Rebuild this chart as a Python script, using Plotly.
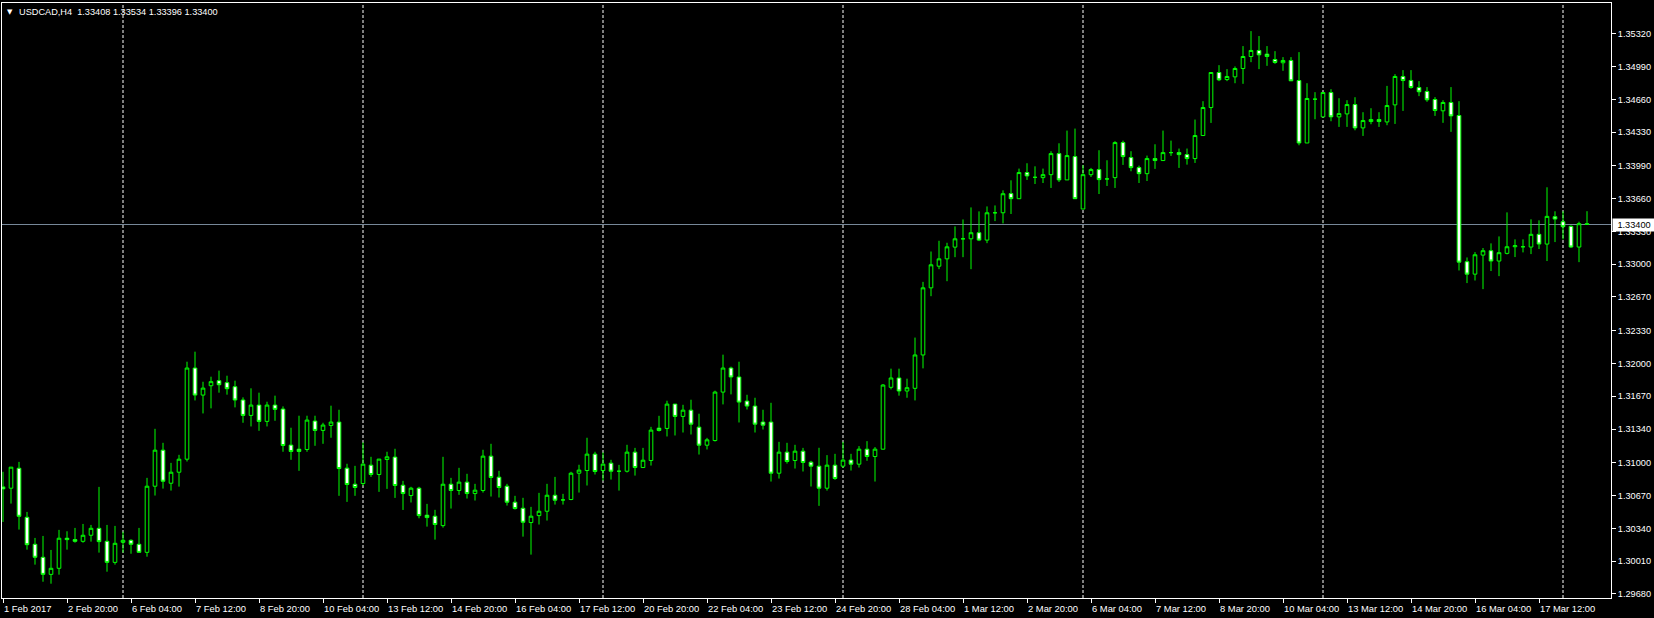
import plotly.graph_objects as go
import pandas as pd

# ---------------- data (USDCAD, H4) ----------------
open_ = [1.30757, 1.30744, 1.30945, 1.30451, 1.30179, 1.30048, 1.29876, 1.29937, 1.30240, 1.30226,
         1.30209, 1.30270, 1.30340, 1.30209, 1.29997, 1.30199, 1.30219, 1.30179, 1.30098, 1.30764,
         1.31127, 1.30794, 1.30905, 1.31036, 1.31954, 1.31682, 1.31776, 1.31827, 1.31807, 1.31766,
         1.31632, 1.31477, 1.31581, 1.31417, 1.31581, 1.31541, 1.31178, 1.31137, 1.31134, 1.31420,
         1.31326, 1.31376, 1.31410, 1.30946, 1.30784, 1.30791, 1.30976, 1.30882, 1.31033, 1.31057,
         1.30774, 1.30670, 1.30744, 1.30472, 1.30462, 1.30367, 1.30784, 1.30721, 1.30805, 1.30690,
         1.30721, 1.31067, 1.30855, 1.30764, 1.30603, 1.30542, 1.30398, 1.30468, 1.30512, 1.30673,
         1.30626, 1.30630, 1.30895, 1.30922, 1.31087, 1.30922, 1.30996, 1.30915, 1.30915, 1.31107,
         1.30952, 1.31023, 1.31349, 1.31346, 1.31591, 1.31467, 1.31530, 1.31359, 1.31177, 1.31224,
         1.31712, 1.31954, 1.31864, 1.31621, 1.31571, 1.31410, 1.31410, 1.30895, 1.31107, 1.31023,
         1.31117, 1.31006, 1.30966, 1.30744, 1.30976, 1.30966, 1.31027, 1.30986, 1.31137, 1.31063,
         1.31137, 1.31760, 1.31854, 1.31723, 1.31750, 1.32086, 1.32762, 1.32980, 1.33054, 1.33172,
         1.33256, 1.33256, 1.33317, 1.33243, 1.33518, 1.33518, 1.33711, 1.33660, 1.33923, 1.33875,
         1.33872, 1.33902, 1.34114, 1.33849, 1.34084, 1.33556, 1.33902, 1.33953, 1.33859, 1.33872,
         1.34225, 1.34074, 1.33973, 1.33912, 1.34064, 1.34044, 1.34124, 1.34124, 1.34104, 1.34064,
         1.34296, 1.34578, 1.34931, 1.34860, 1.34887, 1.34971, 1.35092, 1.35153, 1.35116, 1.35062,
         1.35029, 1.35052, 1.34850, 1.34221, 1.34662, 1.34484, 1.34729, 1.34484, 1.34514, 1.34608,
         1.34373, 1.34437, 1.34457, 1.34433, 1.34605, 1.34891, 1.34851, 1.34780, 1.34740, 1.34659,
         1.34545, 1.34629, 1.34498, 1.33025, 1.32900, 1.33092, 1.33136, 1.33032, 1.33109, 1.33176,
         1.33176, 1.33173, 1.33301, 1.33203, 1.33479, 1.33428, 1.33381, 1.33173, 1.33408]

high = [1.30909, 1.30956, 1.31009, 1.30505, 1.30243, 1.30263, 1.30122, 1.30324, 1.30310, 1.30344,
        1.30384, 1.30374, 1.30757, 1.30374, 1.30364, 1.30306, 1.30229, 1.30344, 1.30848, 1.31342,
        1.31201, 1.30999, 1.31080, 1.32018, 1.32119, 1.31816, 1.31867, 1.31928, 1.31877, 1.31827,
        1.31659, 1.31750, 1.31706, 1.31615, 1.31676, 1.31568, 1.31353, 1.31474, 1.31474, 1.31474,
        1.31403, 1.31575, 1.31534, 1.30990, 1.30969, 1.31205, 1.31060, 1.31037, 1.31111, 1.31141,
        1.30818, 1.30758, 1.30758, 1.30586, 1.30526, 1.31060, 1.30848, 1.30949, 1.30889, 1.30788,
        1.31131, 1.31191, 1.30919, 1.30788, 1.30667, 1.30647, 1.30556, 1.30697, 1.30788, 1.30858,
        1.30687, 1.30909, 1.30980, 1.31252, 1.31111, 1.31104, 1.31030, 1.30979, 1.31181, 1.31150,
        1.31150, 1.31362, 1.31473, 1.31625, 1.31591, 1.31584, 1.31635, 1.31494, 1.31251, 1.31726,
        1.32089, 1.31968, 1.32018, 1.31685, 1.31655, 1.31534, 1.31604, 1.31211, 1.31201, 1.31181,
        1.31150, 1.31020, 1.31151, 1.31077, 1.31090, 1.31211, 1.31090, 1.31168, 1.31218, 1.31158,
        1.31793, 1.31948, 1.31948, 1.31847, 1.32261, 1.32822, 1.33128, 1.33236, 1.33216, 1.33381,
        1.33451, 1.33572, 1.33532, 1.33582, 1.33592, 1.33744, 1.33845, 1.33963, 1.34017, 1.33986,
        1.33963, 1.34138, 1.34218, 1.34346, 1.34366, 1.33997, 1.33970, 1.34148, 1.34047, 1.34239,
        1.34245, 1.34138, 1.33993, 1.34094, 1.34208, 1.34346, 1.34245, 1.34165, 1.34165, 1.34457,
        1.34642, 1.34931, 1.35005, 1.34965, 1.34992, 1.35197, 1.35348, 1.35298, 1.35197, 1.35146,
        1.35086, 1.35086, 1.35136, 1.34823, 1.34733, 1.34729, 1.34763, 1.34672, 1.34652, 1.34682,
        1.34531, 1.34571, 1.34531, 1.34796, 1.34914, 1.34955, 1.34955, 1.34844, 1.34784, 1.34683,
        1.34652, 1.34784, 1.34642, 1.33068, 1.33122, 1.33163, 1.33210, 1.33280, 1.33522, 1.33250,
        1.33250, 1.33452, 1.33442, 1.33775, 1.33533, 1.33533, 1.33391, 1.33428, 1.33534]

low = [1.30404, 1.30589, 1.30327, 1.30125, 1.29974, 1.29802, 1.29782, 1.29873, 1.30125, 1.30195,
       1.30195, 1.30206, 1.30095, 1.29903, 1.29974, 1.30095, 1.30084, 1.30098, 1.30054, 1.30670,
       1.30740, 1.30720, 1.30760, 1.31013, 1.31628, 1.31497, 1.31548, 1.31706, 1.31686, 1.31558,
       1.31403, 1.31366, 1.31322, 1.31366, 1.31423, 1.31111, 1.31030, 1.30919, 1.31111, 1.31171,
       1.31191, 1.31252, 1.30667, 1.30606, 1.30667, 1.30768, 1.30858, 1.30707, 1.30737, 1.30646,
       1.30525, 1.30600, 1.30441, 1.30357, 1.30226, 1.30347, 1.30539, 1.30677, 1.30640, 1.30620,
       1.30700, 1.30660, 1.30650, 1.30569, 1.30529, 1.30256, 1.30075, 1.30378, 1.30418, 1.30579,
       1.30579, 1.30623, 1.30700, 1.30771, 1.30882, 1.30821, 1.30831, 1.30720, 1.30902, 1.30871,
       1.30952, 1.30972, 1.31315, 1.31265, 1.31275, 1.31305, 1.31285, 1.31083, 1.31134, 1.31214,
       1.31588, 1.31689, 1.31406, 1.31537, 1.31305, 1.31335, 1.30811, 1.30841, 1.30992, 1.30942,
       1.30912, 1.30761, 1.30566, 1.30720, 1.30828, 1.30949, 1.30922, 1.30952, 1.31020, 1.30811,
       1.31134, 1.31739, 1.31676, 1.31655, 1.31628, 1.31951, 1.32678, 1.32950, 1.32829, 1.33071,
       1.33071, 1.32950, 1.33233, 1.33212, 1.33434, 1.33411, 1.33506, 1.33660, 1.33849, 1.33808,
       1.33818, 1.33768, 1.33828, 1.33849, 1.33660, 1.33556, 1.33879, 1.33707, 1.33788, 1.33768,
       1.34000, 1.33936, 1.33818, 1.33838, 1.33960, 1.34044, 1.34091, 1.33970, 1.34003, 1.34020,
       1.34292, 1.34423, 1.34844, 1.34844, 1.34823, 1.34817, 1.35035, 1.34965, 1.34998, 1.35018,
       1.34948, 1.34847, 1.34198, 1.34221, 1.34460, 1.34484, 1.34440, 1.34383, 1.34383, 1.34349,
       1.34292, 1.34410, 1.34383, 1.34400, 1.34413, 1.34544, 1.34767, 1.34693, 1.34636, 1.34494,
       1.34424, 1.34333, 1.32937, 1.32810, 1.32836, 1.32749, 1.32931, 1.32880, 1.33099, 1.33072,
       1.33119, 1.33102, 1.33153, 1.33032, 1.33223, 1.33250, 1.33163, 1.33021, 1.33396]

close = [1.30737, 1.30956, 1.30461, 1.30175, 1.30048, 1.29876, 1.29937, 1.30240, 1.30226, 1.30209,
         1.30270, 1.30340, 1.30206, 1.29997, 1.30189, 1.30219, 1.30179, 1.30098, 1.30764, 1.31127,
         1.30814, 1.30905, 1.31036, 1.31954, 1.31682, 1.31752, 1.31817, 1.31786, 1.31746, 1.31632,
         1.31477, 1.31581, 1.31417, 1.31581, 1.31538, 1.31174, 1.31114, 1.31114, 1.31430, 1.31326,
         1.31380, 1.31410, 1.30942, 1.30781, 1.30751, 1.30986, 1.30882, 1.31037, 1.31060, 1.30771,
         1.30690, 1.30744, 1.30468, 1.30448, 1.30378, 1.30784, 1.30721, 1.30805, 1.30690, 1.30724,
         1.31067, 1.30852, 1.30751, 1.30603, 1.30539, 1.30401, 1.30462, 1.30512, 1.30673, 1.30623,
         1.30626, 1.30895, 1.30926, 1.31087, 1.30912, 1.30986, 1.30915, 1.30915, 1.31107, 1.30952,
         1.31026, 1.31329, 1.31325, 1.31591, 1.31467, 1.31530, 1.31389, 1.31177, 1.31231, 1.31712,
         1.31954, 1.31864, 1.31611, 1.31571, 1.31389, 1.31379, 1.30895, 1.31107, 1.31013, 1.31117,
         1.31003, 1.30966, 1.30744, 1.30976, 1.30842, 1.31027, 1.30986, 1.31137, 1.31063, 1.31137,
         1.31783, 1.31854, 1.31723, 1.31756, 1.32086, 1.32762, 1.32994, 1.33054, 1.33175, 1.33256,
         1.33256, 1.33317, 1.33243, 1.33518, 1.33518, 1.33710, 1.33660, 1.33923, 1.33889, 1.33875,
         1.33902, 1.34114, 1.33849, 1.34094, 1.33660, 1.33902, 1.33953, 1.33852, 1.33859, 1.34225,
         1.34084, 1.33973, 1.33912, 1.34064, 1.34044, 1.34124, 1.34124, 1.34104, 1.34064, 1.34296,
         1.34578, 1.34931, 1.34857, 1.34891, 1.34971, 1.35092, 1.35153, 1.35109, 1.35092, 1.35032,
         1.35052, 1.34847, 1.34221, 1.34669, 1.34662, 1.34729, 1.34484, 1.34517, 1.34608, 1.34373,
         1.34447, 1.34457, 1.34437, 1.34598, 1.34891, 1.34850, 1.34780, 1.34737, 1.34656, 1.34548,
         1.34629, 1.34494, 1.33021, 1.32900, 1.33095, 1.33136, 1.33032, 1.33116, 1.33176, 1.33186,
         1.33176, 1.33301, 1.33203, 1.33482, 1.33455, 1.33378, 1.33173, 1.33408, 1.33400]

price_ticks = [1.35320, 1.34990, 1.34660, 1.34330, 1.33990, 1.33660, 1.33330, 1.33000, 1.32670,
               1.32330, 1.32000, 1.31670, 1.31340, 1.31000, 1.30670, 1.30340, 1.30010, 1.29680]
bid_price = 1.33400
title_text = "USDCAD,H4\u00a0\u00a01.33408 1.33534 1.33396 1.33400"

# bar times (H4 bars on trading days, first visible bar 1 Feb 12:00)
days = pd.bdate_range("2017-02-01", "2017-03-24")
times = [d + pd.Timedelta(hours=h) for d in days for h in range(0, 24, 4)]
times = [t for t in times if t >= pd.Timestamp("2017-02-01 12:00")][:len(open_)]
xs = list(range(len(times)))

label_idx = list(range(0, len(times), 8))
label_txt = []
for i in label_idx:
    t = times[i]
    label_txt.append(f"{t.day} {t:%b} {t.year}" if i == 0 else f"{t.day} {t:%b %H:%M}")
sep_idx = [i for i, t in enumerate(times) if t.weekday() == 0 and t.hour == 0]

FONT = "Liberation Sans, Arial, sans-serif"
GREEN = "#00FF00"

fig = go.Figure()
fig.add_trace(go.Candlestick(
    x=xs, open=open_, high=high, low=low, close=close,
    increasing=dict(line=dict(color=GREEN, width=1), fillcolor="#000000"),
    decreasing=dict(line=dict(color=GREEN, width=1), fillcolor="#FFFFFF"),
    whiskerwidth=0, hoverinfo="x+y",
))

shapes = []
for i in sep_idx:
    shapes.append(dict(type="line", xref="x", yref="paper", x0=i, x1=i, y0=0, y1=1,
                       line=dict(color="#FFFFFF", width=1, dash="3px,2px"), layer="below"))
shapes.append(dict(type="line", xref="paper", yref="y", x0=0, x1=1, y0=bid_price, y1=bid_price,
                   line=dict(color="#778899", width=1), layer="below"))

annotations = []
for i, txt in zip(label_idx, label_txt):
    annotations.append(dict(x=i, y=0, xref="x", yref="paper", text=txt, showarrow=False,
                            xanchor="left", yanchor="top", yshift=-3, xshift=-1,
                            font=dict(family=FONT, size=9.4, color="#FFFFFF")))
annotations.append(dict(x=1, y=bid_price, xref="paper", yref="y", text=f"{bid_price:.5f}",
                        showarrow=False, xanchor="left", yanchor="middle", xshift=1,
                        bgcolor="#FFFFFF", borderpad=1, width=40, align="center",
                        font=dict(family=FONT, size=9.2, color="#000000")))
annotations.append(dict(x=0, y=1, xref="paper", yref="paper", text="\u25BC", showarrow=False,
                        xanchor="left", yanchor="top", xshift=3, yshift=-3,
                        font=dict(family="DejaVu Sans", size=7, color="#FFFFFF")))
annotations.append(dict(x=0, y=1, xref="paper", yref="paper", text=title_text, showarrow=False,
                        xanchor="left", yanchor="top", xshift=15, yshift=-2,
                        font=dict(family=FONT, size=9.2, color="#FFFFFF")))

fig.update_layout(
    width=1654, height=618,
    margin=dict(l=2, r=43, t=3, b=20),
    paper_bgcolor="#000000", plot_bgcolor="#000000",
    showlegend=False, boxgap=0.35,
    shapes=shapes, annotations=annotations,
    xaxis=dict(range=[-0.125, 201.0], showgrid=False, zeroline=False,
               showline=True, mirror=True, linecolor="#FFFFFF", linewidth=1,
               ticks="outside", tickvals=label_idx, ticklen=4, tickcolor="#FFFFFF",
               showticklabels=False, rangeslider=dict(visible=False), fixedrange=True),
    yaxis=dict(range=[1.29638, 1.35631], side="right", showgrid=False, zeroline=False,
               showline=True, mirror=True, linecolor="#FFFFFF", linewidth=1,
               ticks="outside", ticklen=4, tickcolor="#FFFFFF",
               tickvals=price_ticks, ticktext=[f"{v:.5f}" for v in price_ticks],
               tickfont=dict(family=FONT, size=9.2, color="#FFFFFF"), fixedrange=True),
)

fig.write_html("out.html",
               config={"displayModeBar": False},
               post_script="document.body.style.margin='0';document.body.style.background='#000';")
